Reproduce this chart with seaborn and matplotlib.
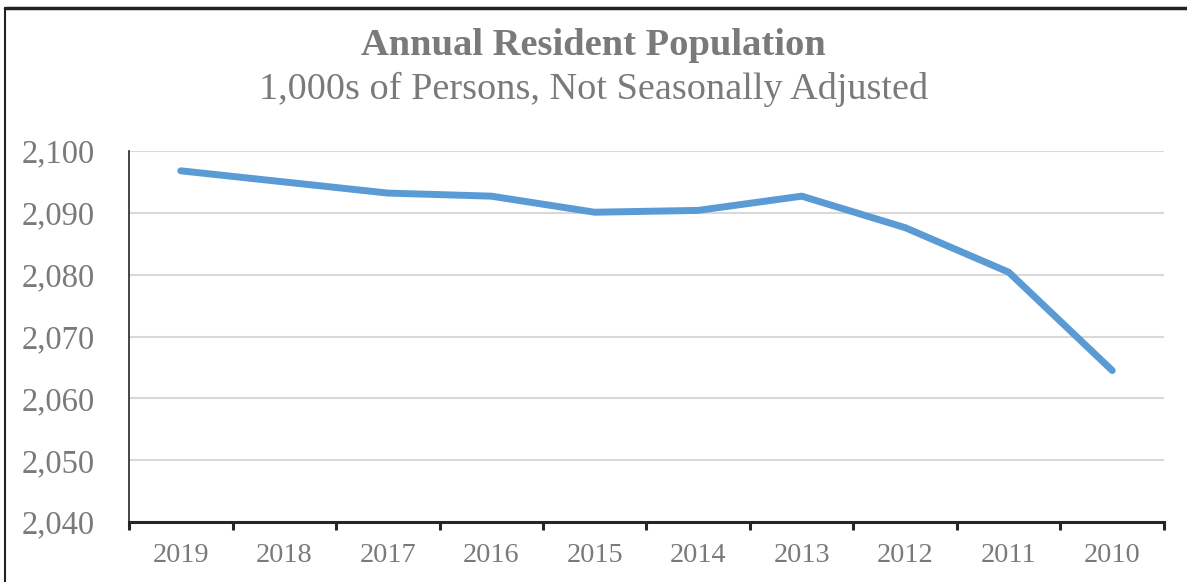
import numpy as np
import pandas as pd
import matplotlib
matplotlib.use("Agg")
import matplotlib.pyplot as plt
from matplotlib.ticker import FixedLocator, FuncFormatter
import seaborn as sns

years = ["2019", "2018", "2017", "2016", "2015", "2014", "2013", "2012", "2011", "2010"]
population = [2096.8, 2095.0, 2093.2, 2092.7, 2090.1, 2090.4, 2092.7, 2087.6, 2080.4, 2064.5]

df = pd.DataFrame({"year": years, "population": population})

sns.set_style("white")
plt.rcParams["font.family"] = ["Liberation Serif", "DejaVu Serif"]
text_grey = "#7a7a7a"

fig = plt.figure(figsize=(11.87, 5.82), dpi=100)
ax = fig.add_axes([0.1087, 0.1031, 0.8719, 0.6374])

sns.lineplot(data=df, x="year", y="population", ax=ax, color="#5B9BD5",
             linewidth=5, solid_capstyle="round", solid_joinstyle="round", sort=False)

ax.set_ylim(2040, 2100)
ax.set_yticks(np.arange(2040, 2101, 10))
ax.yaxis.set_major_formatter(FuncFormatter(lambda v, p: f"{int(v):,}"))
ax.set_xlim(-0.5, len(years) - 0.5)
ax.set_xticks(range(len(years)))
ax.set_xticklabels(years)
ax.xaxis.set_minor_locator(FixedLocator(np.arange(-0.5, len(years), 1.0)))

ax.grid(axis="y", color="#d9d9d9", linewidth=1.5)
ax.set_axisbelow(True)
for s in ["top", "right"]:
    ax.spines[s].set_visible(False)
ax.spines["left"].set_color("#262626")
ax.spines["left"].set_linewidth(1.2)
ax.spines["bottom"].set_color("#262626")
ax.spines["bottom"].set_linewidth(2.2)

ax.tick_params(axis="y", which="both", length=0, labelsize=23.5, labelcolor=text_grey, pad=24.5)
ax.tick_params(axis="x", which="major", bottom=True, length=0, labelsize=20.3, labelcolor=text_grey, pad=15)
ax.tick_params(axis="x", which="minor", bottom=True, direction="out", length=6, width=2.2, color="#262626")
ax.set_xlabel("")
ax.set_ylabel("")

fig.text(0.5, 0.921, "Annual Resident Population", ha="center", va="center",
         fontsize=27.7, fontweight="bold", color=text_grey)
fig.text(0.5, 0.846, "1,000s of Persons, Not Seasonally Adjusted", ha="center", va="center",
         fontsize=27.5, color=text_grey)

# outer chart frame (cropped at right and bottom)
fig.add_artist(plt.Line2D([0.004, 1.0], [0.986, 0.986], color="#222222", linewidth=2.5, transform=fig.transFigure))
fig.add_artist(plt.Line2D([0.0045, 0.0045], [0.0, 0.986], color="#222222", linewidth=1.5, transform=fig.transFigure))

fig.savefig("out.png", dpi=100)
